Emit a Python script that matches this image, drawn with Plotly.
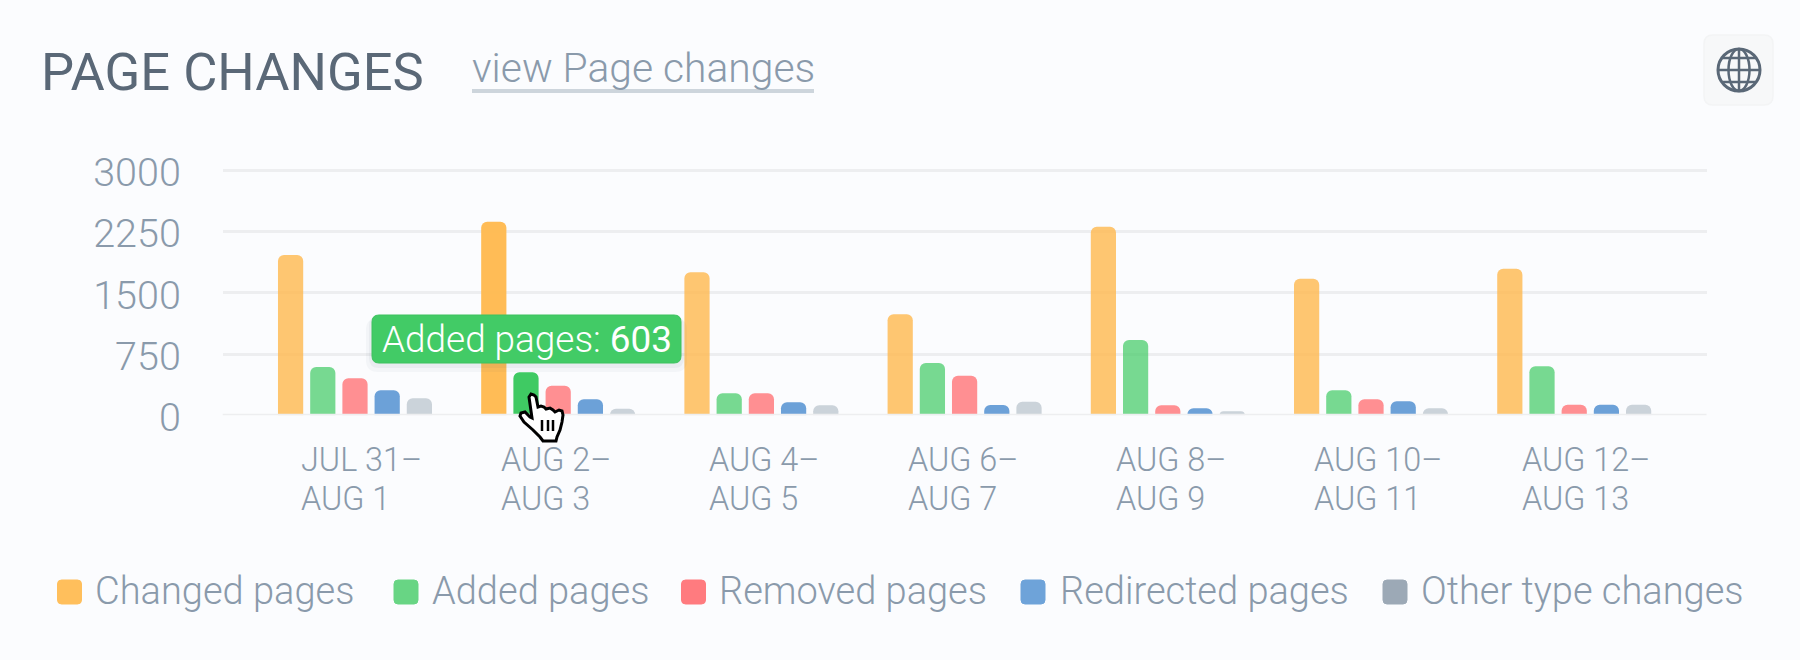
import plotly.graph_objects as go

W, H = 1800, 660
BG = "#fbfcfe"
FONT = "Roboto"
TEXT = "#8a9aab"
DARK = "#5a6877"
GRID = "#edeef0"

range_start = ["JUL 31–", "AUG 2–", "AUG 4–", "AUG 6–", "AUG 8–", "AUG 10–", "AUG 12–"]
range_end = ["AUG 1", "AUG 3", "AUG 5", "AUG 7", "AUG 9", "AUG 11", "AUG 13"]
categories = [a + b for a, b in zip(range_start, range_end)]
y_ticks = [0, 750, 1500, 2250, 3000]

series_names = ["Changed pages", "Added pages", "Removed pages", "Redirected pages", "Other type changes"]
changed = [1964, 2372, 1752, 1237, 2310, 1673, 1796]
added = [592, 527, 269, 641, 922, 306, 600]
removed = [453, 363, 269, 485, 122, 196, 130]
redirected = [306, 196, 159, 126, 86, 171, 130]
other = [208, 81, 122, 167, 49, 86, 130]

bar_colors = ["#ffb84d", "#3fca63", "#ff7b7f", "#5c97d4", "#9ca9b6"]
legend_colors = ["#ffbf5c", "#68d584", "#ff7b7f", "#6ea3d9", "#9ca9b6"]
bar_opacity = [
    [0.8, 0.95, 0.8, 0.8, 0.8, 0.8, 0.8],
    [0.7, 1, 0.7, 0.7, 0.7, 0.7, 0.7],
    0.85,
    0.9,
    0.5,
]
# left edge of each date label relative to its group centre, px
label_shift = [-56, -59, -54, -59, -54, -59, -54]
legend_swatch_x = [57.5, 394, 681.5, 1021, 1383]
legend_text_x = [93, 430, 717, 1058, 1419]

# hand cursor outline, px
hand = [(529, 397), (531, 394), (534, 395), (536, 397), (538, 407), (541, 406), (544, 407),
        (546, 409), (550, 408), (553, 410), (555, 412), (559, 410), (562, 411), (563, 415),
        (562, 422), (560, 430), (557, 437), (556, 441), (543, 441), (540, 437), (533, 430),
        (524, 422), (520, 416), (521, 413), (525, 412), (530, 417), (532, 418)]


def px(x):
    return x / W


def py(y):
    return 1 - y / H


def rounded(x0, y0, x1, y1, r):
    pts = [("M", x0 + r, y0), ("L", x1 - r, y0), ("Q", x1, y0, x1, y0 + r), ("L", x1, y1 - r),
           ("Q", x1, y1, x1 - r, y1), ("L", x0 + r, y1), ("Q", x0, y1, x0, y1 - r),
           ("L", x0, y0 + r), ("Q", x0, y0, x0 + r, y0)]
    out = ""
    for p in pts:
        coords = p[1:]
        out += p[0] + " ".join(
            f"{px(coords[i])} {py(coords[i + 1])}" for i in range(0, len(coords), 2)) + " "
    return out + "Z"


def box(x0, y0, x1, y1, r, fill, line=None, width=0):
    return dict(type="path", xref="paper", yref="paper", path=rounded(x0, y0, x1, y1, r),
                fillcolor=fill, line=dict(color=line or fill, width=width))


def oval(cx, cy, rx, ry, color, width):
    return dict(type="circle", xref="paper", yref="paper", x0=px(cx - rx), x1=px(cx + rx),
                y0=py(cy + ry), y1=py(cy - ry), line=dict(color=color, width=width))


def stroke(x0, y0, x1, y1, color, width):
    return dict(type="line", xref="paper", yref="paper", x0=px(x0), x1=px(x1),
                y0=py(y0), y1=py(y1), line=dict(color=color, width=width))


def label(x, y, text, size, color=TEXT, weight=300, anchor="left", **kw):
    return dict(xref="paper", yref="paper", x=px(x), y=py(y), text=text, showarrow=False,
                xanchor=anchor, yanchor="middle", font=dict(family=FONT, size=size, color=color, weight=weight), **kw)


fig = go.Figure()
values = [changed, added, removed, redirected, other]
for i, name in enumerate(series_names):
    fig.add_trace(go.Bar(name=name, x=categories, y=values[i],
                         marker=dict(color=bar_colors[i], opacity=bar_opacity[i], line_width=0, cornerradius=6)))

shapes = [dict(type="line", xref="paper", yref="y", x0=px(222.7), x1=px(1706.5), y0=0, y1=0,
               line=dict(color=GRID, width=3))]
shapes.append(stroke(472, 91, 814, 91, "#cdd5dc", 4))

# globe button
shapes.append(box(1704, 35, 1773, 105, 9, "#f7f8f9", "#f3f4f5", 1.5))
shapes.append(oval(1739, 70, 21, 21, DARK, 3))
shapes.append(oval(1739, 70, 10.5, 21, DARK, 2.5))
shapes.append(stroke(1739, 49, 1739, 91, DARK, 2.5))
shapes.append(stroke(1718, 70, 1760, 70, DARK, 2.5))
shapes.append(stroke(1722, 58, 1756, 58, DARK, 2.5))
shapes.append(stroke(1722, 82, 1756, 82, DARK, 2.5))

# tooltip
shapes.append(box(366, 318, 687, 372, 12, "rgba(60,70,90,0.04)"))
shapes.append(box(369, 316, 684, 368, 10, "rgba(60,70,90,0.05)"))
shapes.append(box(372, 315, 681, 363, 7, "#42cb66", "#3cc25f", 1))

# cursor
hand_path = "M" + " L".join(f"{px(x)} {py(y)}" for x, y in hand) + " Z"
shapes.append(dict(type="path", xref="paper", yref="paper", path=hand_path, fillcolor="white",
                   line=dict(color="black", width=3)))
for x in (542, 548, 553):
    shapes.append(stroke(x, 420, x, 431, "black", 2.5))

for i, c in enumerate(legend_colors):
    shapes.append(box(legend_swatch_x[i], 580, legend_swatch_x[i] + 24, 604, 4, c, c, 1))

annotations = [
    label(39, 72, "PAGE CHANGES", 52.5, DARK, 400),
    label(470, 68, "view Page changes", 40.8),
    label(380, 339, 'Added pages: <span style="font-weight:400">603</span>', 36.9, "white"),
]
for i, name in enumerate(series_names):
    annotations.append(label(legend_text_x[i], 591, name, 38))
for i, cat in enumerate(categories):
    for text, yp in ((range_start[i], 460), (range_end[i], 499)):
        annotations.append(dict(xref="x", yref="paper", x=cat, y=py(yp), text=text, showarrow=False,
                                xanchor="left", yanchor="middle", xshift=label_shift[i],
                                font=dict(family=FONT, size=32.4, color=TEXT, weight=300)))

fig.update_layout(
    width=W, height=H, autosize=False,
    margin=dict(l=0, r=0, t=0, b=0),
    paper_bgcolor=BG, plot_bgcolor=BG,
    barmode="group", bargap=0.2077, bargroupgap=0.217,
    showlegend=False,
    shapes=shapes, annotations=annotations,
    xaxis=dict(domain=[px(222.7), px(1706.5)], range=[-0.651, 6.651], showticklabels=False,
               showgrid=False, zeroline=False, ticks="", automargin=False),
    yaxis=dict(domain=[py(415.3), py(167.1)], range=[0, 3040], tickvals=y_ticks, automargin=False,
               gridcolor=GRID, gridwidth=3, zeroline=False, ticks="outside", ticklen=33,
               tickcolor="rgba(0,0,0,0)", ticklabelshift=2,
               tickfont=dict(family=FONT, size=39.5, color=TEXT, weight=300)),
)

fig.write_html("out.html", config=dict(displayModeBar=False),
               post_script="document.body.style.margin='0';document.body.style.background='%s';" % BG)
